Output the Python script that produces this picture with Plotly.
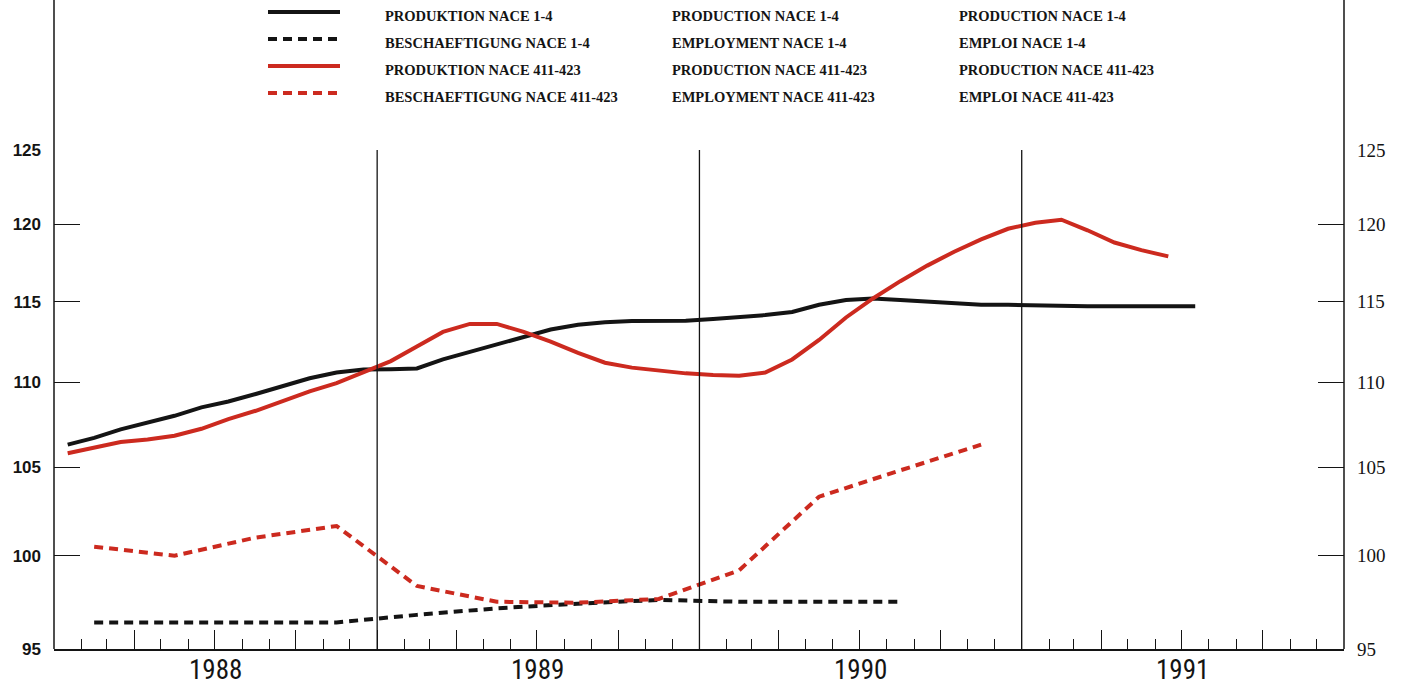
import math
import pandas as pd
import plotly.graph_objects as go

# ---------------- data ----------------
months = pd.date_range("1988-01-01", periods=43, freq="MS").strftime("%Y-%m-%d").tolist()
quarters = pd.date_range("1988-01-01", periods=12, freq="QS").strftime("%Y-%m-%d").tolist()

prod_nace_1_4 = [
    106.3, 106.7, 107.2, 107.6, 108.0, 108.5, 108.85, 109.3, 109.8, 110.25, 110.6, 110.78,
    110.8, 110.85, 111.4, 111.85, 112.35, 112.8, 113.25, 113.55, 113.7, 113.78, 113.8, 113.8,
    113.9, 114.0, 114.15, 114.35, 114.8, 115.1, 115.2, 115.1, 115.0, 114.9, 114.8, 114.8,
    114.75, 114.7, 114.7, 114.7, 114.7, 114.7, 114.7,
]
prod_nace_411_423 = [
    105.8, 106.1, 106.45, 106.6, 106.82, 107.23, 107.8, 108.3, 108.87, 109.46, 109.96, 110.6,
    111.3, 112.2, 113.1, 113.6, 113.6, 113.1, 112.5, 111.8, 111.2, 110.9, 110.7, 110.55,
    110.45, 110.4, 110.6, 111.4, 112.6, 114.0, 115.2, 116.3, 117.3, 118.2, 119.0, 119.7,
    120.1, 120.3, 119.6, 118.8, 118.3, 117.9,
]
empl_nace_1_4 = [96.4, 96.4, 96.4, 96.4, 96.8, 97.15, 97.4, 97.6, 97.5, 97.5, 97.5]
empl_nace_411_423 = [100.5, 100.0, 101.0, 101.65, 98.35, 97.5, 97.45, 97.65, 99.2, 103.3, 104.8, 106.3]

y_ticks = [95, 100, 105, 110, 115, 120, 125]
year_labels = ["1988", "1989", "1990", "1991"]

legend_rows = [
    ("PRODUKTION NACE 1-4", "PRODUCTION NACE 1-4", "PRODUCTION NACE 1-4"),
    ("BESCHAEFTIGUNG NACE 1-4", "EMPLOYMENT NACE 1-4", "EMPLOI NACE 1-4"),
    ("PRODUKTION NACE 411-423", "PRODUCTION NACE 411-423", "PRODUCTION NACE 411-423"),
    ("BESCHAEFTIGUNG NACE 411-423", "EMPLOYMENT NACE 411-423", "EMPLOI NACE 411-423"),
]

# ---------------- style ----------------
BLACK = "#141414"
RED = "#cc2a1f"
DASH = "9px,6px"
W, H = 1402, 688
ML, MR, MT, MB = 54, 58, 150, 39
PW, PH = W - ML - MR, H - MT - MB


def px_x(p):
    return (p - ML) / PW


def px_y(p):
    return (H - MB - p) / PH


fig = go.Figure()

fig.add_trace(go.Scatter(x=months, y=prod_nace_1_4, mode="lines", xperiod="M1",
                         xperiodalignment="middle", line=dict(color=BLACK, width=4),
                         showlegend=False))
fig.add_trace(go.Scatter(x=quarters[:len(empl_nace_1_4)], y=empl_nace_1_4, mode="lines",
                         xperiod="M3", xperiodalignment="middle",
                         line=dict(color=BLACK, width=4, dash=DASH), showlegend=False))
fig.add_trace(go.Scatter(x=months[:len(prod_nace_411_423)], y=prod_nace_411_423, mode="lines",
                         xperiod="M1", xperiodalignment="middle",
                         line=dict(color=RED, width=4), showlegend=False))
fig.add_trace(go.Scatter(x=quarters, y=empl_nace_411_423, mode="lines",
                         xperiod="M3", xperiodalignment="middle",
                         line=dict(color=RED, width=4, dash=DASH), showlegend=False))
# empty trace to activate right-hand axis
fig.add_trace(go.Scatter(x=[], y=[], yaxis="y2", showlegend=False, hoverinfo="skip"))

yr = [math.log10(95), math.log10(125)]
quarter_ticks = pd.date_range("1988-04-01", "1991-12-31", freq="QS").strftime("%Y-%m-%d").tolist()

fig.update_layout(
    width=W, height=H,
    margin=dict(l=ML, r=MR, t=MT, b=MB),
    paper_bgcolor="white", plot_bgcolor="white",
    showlegend=False,
    xaxis=dict(
        type="date", range=["1988-01-01", "1992-01-01"],
        tickvals=quarter_ticks, ticks="inside", ticklen=19, tickwidth=1.3, tickcolor=BLACK,
        showticklabels=False, showgrid=False, zeroline=False,
        showline=True, linecolor=BLACK, linewidth=1.5,
        minor=dict(dtick="M1", tick0="1988-01-01", ticks="inside", ticklen=10,
                   tickwidth=1.2, tickcolor=BLACK, showgrid=False),
    ),
    yaxis=dict(
        type="log", range=yr, tickvals=y_ticks, ticktext=[str(v) for v in y_ticks],
        ticks="inside", ticklen=26, tickwidth=1.3, tickcolor=BLACK,
        showgrid=False, zeroline=False, showline=False,
        ticklabelstandoff=12,
        tickfont=dict(family="Liberation Sans, Arial, sans-serif", size=17, color=BLACK,
                      weight="bold"),
    ),
    yaxis2=dict(
        type="log", range=yr, overlaying="y", side="right",
        tickvals=y_ticks, ticktext=[str(v) for v in y_ticks],
        ticks="inside", ticklen=26, tickwidth=1.3, tickcolor=BLACK,
        showgrid=False, zeroline=False, showline=False,
        ticklabelstandoff=12,
        tickfont=dict(family="Liberation Serif, Times New Roman, serif", size=19, color=BLACK),
    ),
)

shapes = []
# vertical axis lines extending above the plot area
for xp in (0, 1):
    shapes.append(dict(type="line", xref="paper", yref="paper", x0=xp, x1=xp, y0=0,
                       y1=px_y(0), line=dict(color=BLACK, width=1.5)))
# year separator lines
for yb in ["1989-01-01", "1990-01-01", "1991-01-01"]:
    shapes.append(dict(type="line", xref="x", yref="paper", x0=yb, x1=yb, y0=0, y1=1,
                       line=dict(color=BLACK, width=1.3)))

# legend samples + texts
sample_styles = [(BLACK, None), (BLACK, DASH), (RED, None), (RED, DASH)]
line_y = [12, 39, 66, 93]
text_y = [16, 43, 70, 97]
col_x = [383, 670, 957]
annotations = []
for k, ((col, dsh), row) in enumerate(zip(sample_styles, legend_rows)):
    ln = dict(color=col, width=4)
    if dsh:
        ln["dash"] = dsh
    shapes.append(dict(type="line", xref="paper", yref="paper", x0=px_x(268), x1=px_x(340),
                       y0=px_y(line_y[k]), y1=px_y(line_y[k]), line=ln))
    for cx, txt in zip(col_x, row):
        annotations.append(dict(
            text=txt, xref="paper", yref="paper", x=px_x(cx), y=px_y(text_y[k]),
            xanchor="left", yanchor="middle", showarrow=False,
            font=dict(family="Liberation Serif, Times New Roman, serif", size=14.5,
                      color=BLACK, weight="bold"),
        ))

# year labels at mid-year
for lab in year_labels:
    annotations.append(dict(
        text=lab, xref="x", yref="paper", x=f"{lab}-07-02", y=px_y(670),
        xanchor="center", yanchor="middle", showarrow=False,
        font=dict(family="Liberation Sans Narrow, Arial Narrow, Roboto Condensed, Liberation Sans, sans-serif",
                  size=27, color=BLACK),
    ))

fig.update_layout(shapes=shapes, annotations=annotations)
fig.write_html(
    "out.html",
    config={"displayModeBar": False},
    post_script="document.body.style.margin='0px';document.body.style.overflow='hidden';",
)
